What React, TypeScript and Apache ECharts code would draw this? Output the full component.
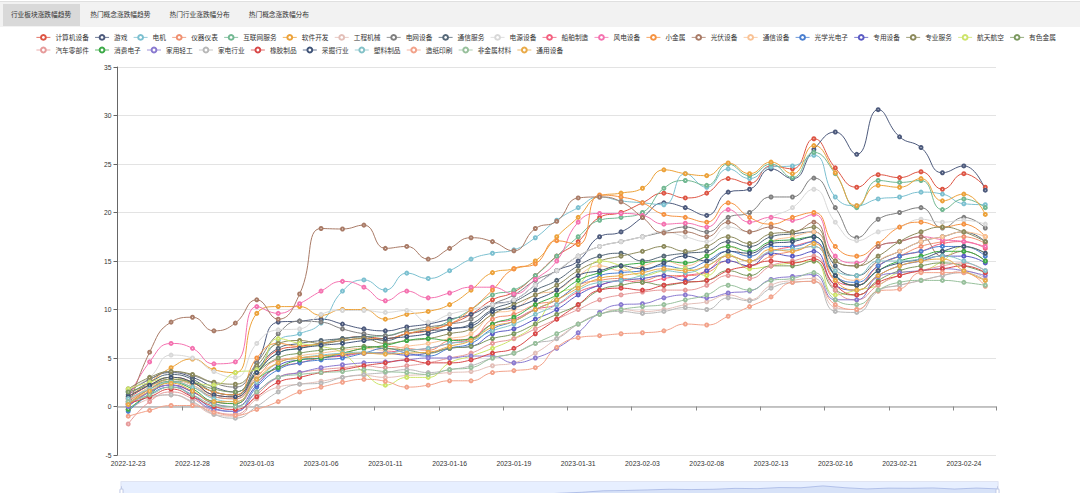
import React, { useEffect, useRef } from 'react';
import * as echarts from 'echarts';

const dates = ['2022-12-23','2022-12-26','2022-12-27','2022-12-28','2022-12-29','2022-12-30','2023-01-03','2023-01-04','2023-01-05','2023-01-06','2023-01-09','2023-01-10','2023-01-11','2023-01-12','2023-01-13','2023-01-16','2023-01-17','2023-01-18','2023-01-19','2023-01-20','2023-01-30','2023-01-31','2023-02-01','2023-02-02','2023-02-03','2023-02-06','2023-02-07','2023-02-08','2023-02-09','2023-02-10','2023-02-13','2023-02-14','2023-02-15','2023-02-16','2023-02-17','2023-02-20','2023-02-21','2023-02-22','2023-02-23','2023-02-24','2023-02-27'];

const tabs = ['行业板块涨跌幅趋势', '热门概念涨跌幅趋势', '热门行业涨跌幅分布', '热门概念涨跌幅分布'];

const names = ['计算机设备','游戏','电机','仪器仪表','互联网服务','软件开发','工程机械','电网设备','通信服务','电源设备','船舶制造','风电设备','小金属','光伏设备','通信设备','光学光电子','专用设备','专业服务','航天航空','有色金属','汽车零部件','消费电子','家用轻工','家电行业','橡胶制品','采掘行业','塑料制品','造纸印刷','非金属材料','通用设备'];

const colors = ['#dd5544','#4d5a7c','#7cc0d0','#f09070','#72b892','#eca23a','#e3bfb8','#7f7f7f','#566878','#d8d8d8','#f3607f','#f472b0','#f59342','#a97b67','#f9c396','#4a7fd0','#5b5bc4','#8c8a5c','#cde46a','#7c9960','#e69a9a','#3daa48','#8a7ad0','#b8b8b8','#d84848','#405478','#84c2c8','#f2a28a','#98c09c','#e9aa48'];

const jisuanji = [0.8,2.2,3.0,2.5,1.2,1.0,3.5,5.8,6.2,6.5, 7.0,7.2,7.0,7.5,7.8,8.5,9.5,11.0,11.8,13.5, 15.5,17.0,19.5,20.0,21.0,22.0,21.5,22.0,23.5,23.0, 24.8,24.5,27.6,24.6,22.6,23.9,23.6,24.2,22.4,24.0,22.6];
const youxi = [1.5,2.8,3.5,3.0,2.0,1.5,4.5,8.7,8.8,9.0, 8.5,8.0,7.8,8.2,8.5,9.0,9.5,10.5,11.0,12.5, 14.0,15.0,17.5,18.0,19.5,21.0,20.5,19.7,22.1,22.4, 24.5,23.5,26.5,28.3,26.0,30.6,27.8,26.7,24.1,24.8,22.3];
const dianji = [0.5,2.0,2.8,2.2,1.0,0.8,3.5,6.8,7.5,8.6, 11.9,13.05,12.0,13.75,13.2,14.0,15.2,15.8,16.15,17.4, 19.2,20.5,21.6,21.2,21.0,20.8,24.0,22.6,24.5,23.5, 24.7,24.8,25.9,21.6,20.7,21.4,21.6,22.1,21.9,20.9,20.8];
const yiqi = [0.5,1.8,2.6,2.0,1.0,0.8,3.0,4.8,5.0,5.2, 5.5,6.0,6.2,6.0,5.8,6.8,7.0,9.0,9.5,10.5, 11.0,12.5,13.0,13.2,13.0,13.5,13.5,13.8,15.0,14.5, 15.5,16.0,16.5,13.5,12.5,14.5,15.5,16.5,17.0,17.5,16.8];
const hulianwang = [0.2,1.8,2.6,2.4,1.5,1.2,3.5,5.5,6.0,6.5, 7.0,7.2,7.3,7.8,8.0,8.8,10.0,11.5,12.0,13.5, 15.5,17.5,19.2,19.5,20.0,22.5,23.3,22.8,25.0,23.8, 25.0,23.6,26.2,24.0,20.5,23.3,23.1,23.3,20.3,21.4,20.5];
const ruanjian = [1.0,2.5,4.0,4.9,3.8,3.5,9.6,10.3,10.3,9.4, 10.0,10.0,9.0,9.5,9.8,10.5,12.0,13.8,14.2,15.0, 17.5,19.5,21.7,22.0,22.5,24.4,24.0,23.8,25.1,24.0, 25.2,24.0,26.9,24.1,20.7,22.8,22.6,23.5,21.2,21.9,19.8];
const gongcheng = [-0.3,0.8,1.2,0.4,-0.8,-1.0,0.8,2.0,2.3,2.6, 3.0,3.2,3.0,3.2,3.3,3.5,3.6,4.2,4.5,5.5, 7.0,8.5,9.5,10.0,9.8,10.0,10.5,10.8,11.5,11.0, 12.5,13.0,13.2,10.2,10.0,12.0,12.5,13.0,13.5,14.0,13.2];
const dianwang = [1.6,2.8,3.6,3.2,2.4,2.0,4.5,7.5,8.8,8.7, 8.0,7.5,7.3,7.8,8.2,8.5,9.0,10.5,11.5,13.0, 14.0,15.5,16.5,17.0,17.5,18.0,18.5,18.0,19.5,20.0, 21.6,21.6,23.55,20.5,17.4,19.3,20.0,20.5,18.4,19.5,18.4];
const tongxinfw = [1.2,2.5,3.3,2.8,1.5,1.2,3.8,6.0,6.5,6.8, 7.0,7.2,6.8,7.5,7.8,8.0,8.5,10.0,10.8,12.0, 13.0,14.5,15.5,15.8,15.0,15.5,15.8,16.0,17.0,16.5, 17.5,17.8,18.0,14.5,13.5,15.0,16.0,17.0,17.5,18.0,17.0];
const dianyuan = [1.8,3.0,5.3,5.0,3.6,3.0,6.5,7.9,8.0,9.5, 9.9,9.9,9.7,9.9,8.7,9.5,10.0,10.5,11.0,12.5, 14.0,15.5,16.5,17.0,17.5,18.0,17.5,17.0,18.5,18.0, 19.5,20.5,22.4,19.0,17.1,18.0,18.5,19.3,19.0,19.2,18.8];
const chuanbo = [0.2,1.5,2.2,1.5,0.5,0.3,2.5,4.0,4.5,5.0, 5.2,5.5,5.6,5.8,6.0,6.5,7.0,8.5,9.0,10.0, 10.5,11.8,12.5,13.0,12.8,13.2,13.5,14.0,15.5,15.0, 16.0,16.5,17.0,13.0,12.5,14.5,15.5,16.0,16.8,17.0,16.3];
const fengdian = [0.8,4.6,6.5,6.0,4.4,4.6,10.3,9.6,10.6,11.9, 12.9,12.3,10.9,11.9,11.2,11.7,12.3,12.3,11.6,13.1, 15.0,19.0,19.9,19.9,19.7,18.8,18.9,18.5,20.3,19.0, 19.5,19.2,19.8,15.5,14.8,16.5,17.0,17.5,17.2,17.0,16.5];
const xiaojinshu = [0.3,1.8,2.8,2.4,1.5,1.2,5.0,6.5,6.2,6.5, 6.8,7.0,7.0,7.5,8.0,8.5,10.0,12.0,14.2,14.7, 17.1,16.7,21.8,21.6,21.0,19.8,19.5,19.0,21.0,19.5, 18.8,19.5,20.0,16.5,15.5,16.8,18.5,19.0,18.5,18.8,17.5];
const guangfu = [-0.3,5.6,8.7,9.2,7.8,8.6,11.0,9.0,11.6,18.35, 18.3,18.7,16.3,16.5,15.2,16.3,17.4,17.0,16.05,18.35, 19.1,21.5,21.6,21.1,19.5,17.9,18.0,17.5,19.0,18.0, 18.5,18.0,19.0,15.0,14.5,16.5,17.0,17.5,15.5,16.0,15.0];
const tongxinsb = [0.6,2.0,2.8,2.2,1.2,1.0,3.2,4.5,5.2,5.5, 5.8,6.0,5.8,6.2,6.5,7.0,7.5,9.5,10.0,11.5, 12.0,13.5,14.5,14.0,14.5,15.0,14.5,15.5,16.5,15.5, 17.0,17.5,18.0,14.0,13.0,15.0,16.0,17.0,17.5,18.0,17.5];
const guangxue = [-0.5,1.2,2.0,1.2,-0.2,-0.5,2.0,3.8,4.5,4.8, 5.0,5.5,6.0,5.5,5.2,6.0,6.5,8.0,8.8,10.0, 11.0,12.5,13.5,13.8,14.0,14.5,14.2,15.0,16.0,15.5, 16.5,16.5,17.0,13.5,12.8,14.5,15.5,16.0,16.5,16.5,15.5];
const zhuanyongsb = [0.0,1.5,2.2,1.5,0.3,0.0,2.2,4.2,4.8,5.0, 5.3,5.5,5.5,5.3,5.5,6.0,6.2,7.5,8.0,9.0, 10.0,11.5,12.5,13.0,13.2,13.5,13.0,14.0,15.0,14.5, 15.8,15.5,16.0,12.5,12.0,13.5,14.5,15.0,15.5,15.5,14.8];
const zhuanyefw = [1.8,3.0,3.6,3.3,2.5,2.3,4.2,6.5,6.8,6.5, 6.8,7.0,6.5,6.8,7.0,7.5,8.0,9.5,10.5,11.5, 12.5,14.0,15.0,15.5,16.0,16.5,16.0,16.5,17.5,16.8, 17.8,18.0,18.5,15.0,14.5,15.5,17.0,18.0,18.5,18.0,17.0];
const hangtian = [1.8,2.5,3.0,2.5,2.2,3.5,3.8,7.0,6.5,6.2, 5.5,3.5,2.2,3.0,3.0,4.5,5.2,6.0,7.0,8.5, 11.5,12.5,15.0,14.5,13.5,14.0,14.2,13.5,15.7,14.2, 14.5,14.8,15.0,11.5,12.0,12.5,13.8,14.0,15.0,16.5,15.8];
const youse = [1.5,2.2,2.8,2.5,1.8,1.5,3.5,5.0,5.5,5.8, 6.0,6.2,6.0,5.8,5.5,6.0,6.2,7.0,7.5,8.5, 9.5,10.5,12.0,12.5,12.8,12.5,12.8,13.0,14.0,13.5, 14.5,14.5,15.0,12.0,11.5,13.0,14.0,14.5,14.8,14.5,13.8];
const qiche = [-1.8,0.5,1.5,0.8,-0.5,-0.8,1.2,3.0,3.5,3.8, 4.0,4.2,4.0,4.2,4.5,5.0,5.5,6.5,7.0,8.0, 9.0,10.0,11.0,11.5,11.8,12.0,12.0,12.5,13.5,13.2, 14.5,15.0,15.5,12.0,11.0,12.5,13.5,14.0,14.5,14.8,14.0];
const xiaofei = [-0.3,1.3,2.5,1.8,0.5,0.3,2.8,4.0,4.8,5.0, 5.5,6.0,6.3,6.8,7.0,6.8,7.0,8.5,9.2,10.5, 11.5,13.0,13.8,14.5,14.8,15.0,14.8,15.5,16.5,16.0, 17.0,17.2,17.5,13.5,12.5,14.0,15.0,15.5,16.0,16.0,15.0];
const jiayong = [0.0,1.5,2.2,1.0,-0.3,-0.5,1.5,3.0,3.5,4.0, 4.3,4.5,4.6,4.8,5.0,5.0,5.2,5.2,4.5,5.0, 6.0,7.6,9.7,10.5,10.6,11.2,11.5,11.2,11.7,11.9, 13.1,13.4,13.6,11.0,11.0,13.4,13.8,14.0,14.2,14.0,13.5];
const jiadian = [0.5,1.0,1.2,0.5,-0.8,-1.2,0.0,1.5,2.3,2.4, 3.0,3.3,3.5,3.8,3.5,3.8,4.2,5.0,5.5,6.5, 7.0,8.5,9.5,9.8,9.6,9.8,10.2,10.0,11.2,10.9, 12.2,12.8,12.9,9.8,9.7,11.9,12.5,13.0,13.5,13.8,13.0];
const xiangjiao = [0.3,1.0,1.8,1.0,0.0,-0.3,1.0,2.5,3.0,3.5, 3.8,4.2,4.5,4.8,4.5,4.5,4.8,5.5,6.0,7.5, 9.0,10.5,12.0,12.2,12.0,12.5,12.8,13.0,14.0,14.5, 15.0,14.8,15.2,12.5,11.5,12.8,13.5,14.0,14.2,14.5,13.8];
const caijue = [1.0,2.2,3.0,2.5,1.2,1.0,3.5,5.5,6.0,6.3, 6.5,6.8,7.0,7.2,7.5,8.0,8.3,9.8,10.2,11.0, 12.0,13.5,14.0,14.5,14.2,14.8,15.5,15.0,16.0,15.8, 16.8,17.0,17.5,13.5,12.5,14.0,14.8,15.2,16.0,16.5,15.8];
const suliao = [0.8,1.8,2.5,2.0,0.8,0.5,2.5,4.5,5.0,5.3, 5.5,5.6,5.5,5.8,6.0,6.5,6.8,7.8,8.5,9.5, 10.5,12.0,12.8,13.0,13.5,14.0,13.8,14.5,15.5,15.0, 16.0,16.2,16.5,14.0,13.5,15.0,15.0,15.2,15.5,15.0,14.0];
const zaozhi = [-1.0,-0.4,0.1,0.1,-0.6,-0.9,-0.3,0.5,1.5,2.0, 2.5,2.8,2.6,2.0,2.2,2.65,2.65,3.5,3.7,4.0, 6.1,7.1,7.3,7.5,7.6,7.8,8.5,8.4,9.3,10.3, 11.3,12.8,12.9,10.5,10.0,11.9,12.1,13.8,13.8,13.8,12.4];
const feijinshu = [0.5,1.2,2.0,1.2,0.2,0.0,1.5,3.0,3.3,3.5, 3.6,3.8,3.6,3.5,3.3,3.8,4.0,5.0,5.5,6.5, 7.5,8.5,9.5,10.0,10.3,10.5,11.0,11.5,12.5,12.0, 13.0,13.2,13.8,11.0,10.5,12.0,12.8,13.0,13.0,12.8,12.5];
const tongyong = [0.2,1.6,2.4,1.6,0.5,0.5,2.8,4.5,5.0,5.2, 5.4,5.5,5.4,5.5,5.6,6.2,6.8,8.2,8.8,10.0, 11.0,12.2,13.2,13.5,13.8,14.2,14.0,14.5,15.5,15.0, 16.2,16.0,16.8,13.0,12.0,13.5,14.5,15.0,15.2,14.0,13.0];

const seriesValues = [jisuanji, youxi, dianji, yiqi, hulianwang, ruanjian, gongcheng, dianwang, tongxinfw, dianyuan, chuanbo, fengdian, xiaojinshu, guangfu, tongxinsb, guangxue, zhuanyongsb, zhuanyefw, hangtian, youse, qiche, xiaofei, jiayong, jiadian, xiangjiao, caijue, suliao, zaozhi, feijinshu, tongyong];

const FONT = "'Liberation Sans', 'Noto Sans CJK SC', sans-serif";

export default function App() {
  const ref = useRef<HTMLDivElement>(null);
  useEffect(() => {
    if (!ref.current) return;
    const chart = echarts.init(ref.current, null, { renderer: 'svg' });
    chart.setOption({
      animation: false,
      color: colors,
      textStyle: { fontFamily: FONT },
      legend: {
        data: names,
        left: 31,
        right: 0,
        top: 29,
        itemWidth: 14,
        itemHeight: 6,
        itemGap: 5.8,
        itemStyle: { borderWidth: 0.8 },
        lineStyle: { width: 0.8 },
        textStyle: { fontSize: 6.7, color: '#333', fontFamily: FONT },
      },
      grid: { left: 117.5, right: 84, top: 67, height: 388 },
      xAxis: [
        {
          type: 'category',
          data: dates,
          boundaryGap: true,
          axisLine: { onZero: true, lineStyle: { color: '#b5b5b5', width: 1.5 } },
          axisTick: { show: true, interval: 2, length: 4, lineStyle: { color: '#888' } },
          axisLabel: { show: false },
        },
        {
          type: 'category',
          data: dates,
          position: 'bottom',
          boundaryGap: true,
          axisLine: { show: false, onZero: false },
          axisTick: { show: false },
          axisLabel: { interval: 2, fontSize: 6.8, color: '#333', margin: 5, fontFamily: FONT },
        },
      ],
      yAxis: {
        type: 'value',
        min: -5,
        max: 35,
        interval: 5,
        axisLine: { show: true, lineStyle: { color: '#666' } },
        axisTick: { show: true, length: 4, lineStyle: { color: '#666' } },
        axisLabel: { fontSize: 6.7, color: '#333', margin: 6, fontFamily: FONT },
        splitLine: { lineStyle: { color: '#e3e3e3' } },
      },
      dataZoom: [
        {
          type: 'slider',
          xAxisIndex: [0, 1],
          start: 0,
          end: 100,
          left: 118,
          right: 84,
          top: 481,
          height: 26,
          moveHandleSize: 0,
          brushSelect: false,
          handleSize: '60%',
        },
      ],
      series: names.map((n, i) => ({
        name: n,
        type: 'line',
        xAxisIndex: 0,
        data: seriesValues[i],
        smooth: true,
        symbol: 'emptyCircle',
        symbolSize: 3,
        itemStyle: { borderWidth: 0.8 },
        lineStyle: { width: 1 },
      })),
    });
    return () => chart.dispose();
  }, []);

  return (
    <div style={{ position: 'fixed', left: 0, top: 0, width: 1080, height: 493, overflow: 'hidden', background: '#fff', fontFamily: FONT }}>
      <div ref={ref} style={{ position: 'absolute', left: 0, top: 0, width: 1080, height: 520 }} />
      <div style={{ position: 'absolute', left: 0, top: 1, width: 1080, height: 26, background: '#f2f2f2', borderTop: '1px solid #e0e0e0', boxSizing: 'border-box' }}>
        {tabs.map((t, k) => (
          <div
            key={t}
            style={{
              position: 'absolute',
              left: 2.5 + k * 79.3,
              top: 2,
              width: 77,
              height: 22,
              lineHeight: '22px',
              fontSize: 6.7,
              textAlign: 'center',
              color: '#333',
              background: k === 0 ? '#d9d9d9' : 'transparent',
            }}
          >
            {t}
          </div>
        ))}
      </div>
    </div>
  );
}
